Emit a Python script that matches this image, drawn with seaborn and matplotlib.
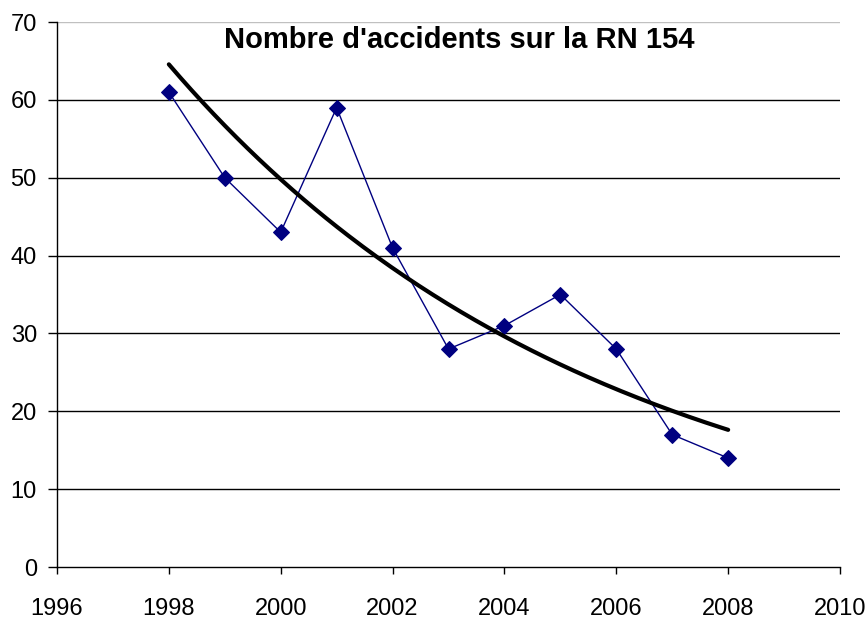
import matplotlib
matplotlib.use("Agg")
import matplotlib.pyplot as plt
import numpy as np
import pandas as pd
import seaborn as sns

# accidents per year on the RN 154
years = [1998, 1999, 2000, 2001, 2002, 2003, 2004, 2005, 2006, 2007, 2008]
accidents = [61, 50, 43, 59, 41, 28, 31, 35, 28, 17, 14]

x_ticks = [1996, 1998, 2000, 2002, 2004, 2006, 2008, 2010]
y_ticks = [0, 10, 20, 30, 40, 50, 60, 70]

df = pd.DataFrame({"year": years, "accidents": accidents})

# exponential trend line (Excel style), fitted on the data
coef = np.polyfit(df["year"] - years[0], np.log(df["accidents"]), 1)
trend_x = np.linspace(years[0], years[-1], 200)
trend = pd.DataFrame({"year": trend_x,
                      "accidents": np.exp(np.polyval(coef, trend_x - years[0]))})

sns.set_style("white")
plt.rcParams["font.family"] = ["Liberation Sans", "DejaVu Sans"]
plt.rcParams["text.color"] = "black"
plt.rcParams["xtick.color"] = "black"
plt.rcParams["ytick.color"] = "black"

fig = plt.figure(figsize=(8.66, 6.18), dpi=100)
ax = fig.add_axes([0.0658, 0.0825, 0.9042, 0.8819])

for y in y_ticks[1:-1]:
    ax.axhline(y, color="black", lw=1, zorder=0)
ax.axhline(70, color="#c0c0c0", lw=1, zorder=0)

sns.lineplot(data=df, x="year", y="accidents", ax=ax, color="#000080",
             lw=1, marker="D", markersize=8, markeredgecolor="#000080")
sns.lineplot(data=trend, x="year", y="accidents", ax=ax, color="black", lw=3)

ax.set_xlim(1996, 2010)
ax.set_ylim(0, 70)
ax.set_xticks(x_ticks)
ax.set_yticks(y_ticks)
ax.set_xlabel("")
ax.set_ylabel("")
ax.tick_params(axis="both", labelsize=17, direction="out", width=1,
               labelcolor="black", bottom=True, left=True)
ax.tick_params(axis="x", length=5, pad=17)
ax.tick_params(axis="y", length=6.5, pad=8)
for side in ["top", "right"]:
    ax.spines[side].set_visible(False)
for side in ["left", "bottom"]:
    ax.spines[side].set_color("black")
    ax.spines[side].set_linewidth(1)

ax.text(0.514, 0.993, "Nombre d'accidents sur la RN 154", transform=ax.transAxes,
        ha="center", va="top", fontsize=21, fontweight="bold", color="black")

plt.savefig("out.png", dpi=100)
